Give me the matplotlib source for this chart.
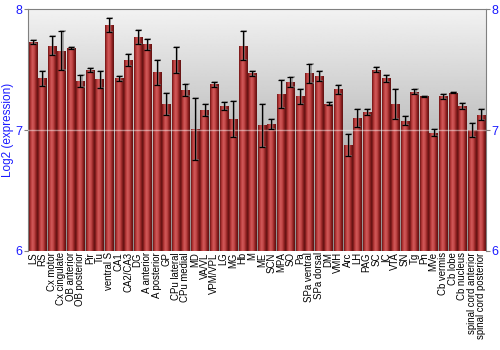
import numpy as np
import matplotlib
matplotlib.use('Agg')
import matplotlib.pyplot as plt
from matplotlib.colors import LinearSegmentedColormap

plt.rcParams['font.family'] = ['Liberation Sans', 'DejaVu Sans']

regions = ['LS', 'RS', 'Cx motor', 'Cx cingulate', 'OB anterior', 'OB posterior',
           'Pir', 'Tu', 'ventral S', 'CA1', 'CA2/CA3', 'DG', 'A anterior',
           'A posterior', 'GP', 'CPu lateral', 'CPu medial', 'MD', 'VA/VL',
           'VPM/VPL', 'LG', 'MG', 'Hb', 'M', 'ME', 'SCN', 'MPA', 'SO', 'Pa',
           'SPa ventral', 'SPa dorsal', 'DM', 'VMH', 'Arc', 'LH', 'PAG', 'SC',
           'IC', 'VTA', 'SN', 'Tg', 'Pn', 'MVe', 'Cb vermis', 'Cb lobe',
           'Cb nucleus', 'spinal cord anterior', 'spinal cord posterior']

expression = [7.73, 7.43, 7.70, 7.66, 7.68, 7.41, 7.50, 7.42, 7.87, 7.43,
              7.58, 7.77, 7.71, 7.48, 7.22, 7.58, 7.33, 7.01, 7.17, 7.38,
              7.20, 7.09, 7.70, 7.47, 7.04, 7.05, 7.30, 7.40, 7.28, 7.47,
              7.45, 7.22, 7.34, 6.88, 7.10, 7.15, 7.50, 7.43, 7.22, 7.08,
              7.32, 7.28, 6.98, 7.28, 7.31, 7.20, 7.00, 7.13]

errors = [0.02, 0.06, 0.08, 0.165, 0.005, 0.05, 0.015, 0.07, 0.06, 0.02,
          0.05, 0.06, 0.045, 0.105, 0.09, 0.105, 0.05, 0.26, 0.05, 0.02,
          0.033, 0.15, 0.12, 0.02, 0.18, 0.043, 0.115, 0.04, 0.06, 0.075,
          0.043, 0.01, 0.037, 0.09, 0.075, 0.023, 0.02, 0.03, 0.125, 0.036,
          0.02, 0.005, 0.03, 0.022, 0.005, 0.026, 0.06, 0.047]

y_ticks = [6, 7, 8]
blue = '#1a1aff'

fig = plt.figure(figsize=(5, 3.5), dpi=100)
ax = fig.add_axes([0.056, 0.283, 0.916, 0.690])

# background gradient: light at top, darker toward bottom
bg = np.linspace(0.55, 0.95, 256).reshape(-1, 1)
ax.imshow(bg, cmap='gray', vmin=0, vmax=1, origin='lower', aspect='auto',
          extent=[0, 1, 0, 1], transform=ax.transAxes, zorder=0)

# bars with horizontal red gradient
bar_cmap = LinearSegmentedColormap.from_list(
    'barred', ['#6e1414', '#b83a3a', '#d25a5a', '#c04545', '#8c2020', '#5e1010'])
grad = np.linspace(0, 1, 64).reshape(1, -1)
x = np.arange(len(regions))
bars = ax.bar(x, np.array(expression) - 6, bottom=6, width=0.86,
              color='none', edgecolor='none', zorder=2)
for b in bars:
    im = ax.imshow(grad, cmap=bar_cmap, aspect='auto', zorder=2,
                   extent=[b.get_x(), b.get_x() + b.get_width(), 6, 6 + b.get_height()])
    im.set_clip_path(b)

ax.axhline(7, color='white', alpha=0.45, lw=1, zorder=3)

# error bars with a soft gray shadow
ax.errorbar(x + 0.12, expression, yerr=errors, fmt='none', ecolor='#808080',
            elinewidth=1.4, capsize=2.2, capthick=1.4, alpha=0.6, zorder=3)
ax.errorbar(x, expression, yerr=errors, fmt='none', ecolor='black',
            elinewidth=0.9, capsize=2.2, capthick=0.9, zorder=4)

ax.set_xlim(-0.5, len(regions) - 0.5)
ax.set_ylim(6, 8)
ax.set_yticks(y_ticks)
ax.set_yticklabels([str(t) for t in y_ticks])
ax.tick_params(axis='y', colors='#808080', labelcolor=blue, labelsize=9,
               length=3, left=True, right=True, labelleft=True, labelright=True,
               pad=1)
ax.set_xticks(x)
ax.set_xticklabels(regions, rotation=90, fontsize=6.9)
ax.tick_params(axis='x', length=0, pad=1)
ax.set_ylabel('Log2 (expression)', color=blue, fontsize=8.5, labelpad=1)

for side in ['left', 'right', 'top']:
    ax.spines[side].set_color('#808080')
ax.spines['bottom'].set_visible(False)

fig.savefig('out.png', dpi=100)
